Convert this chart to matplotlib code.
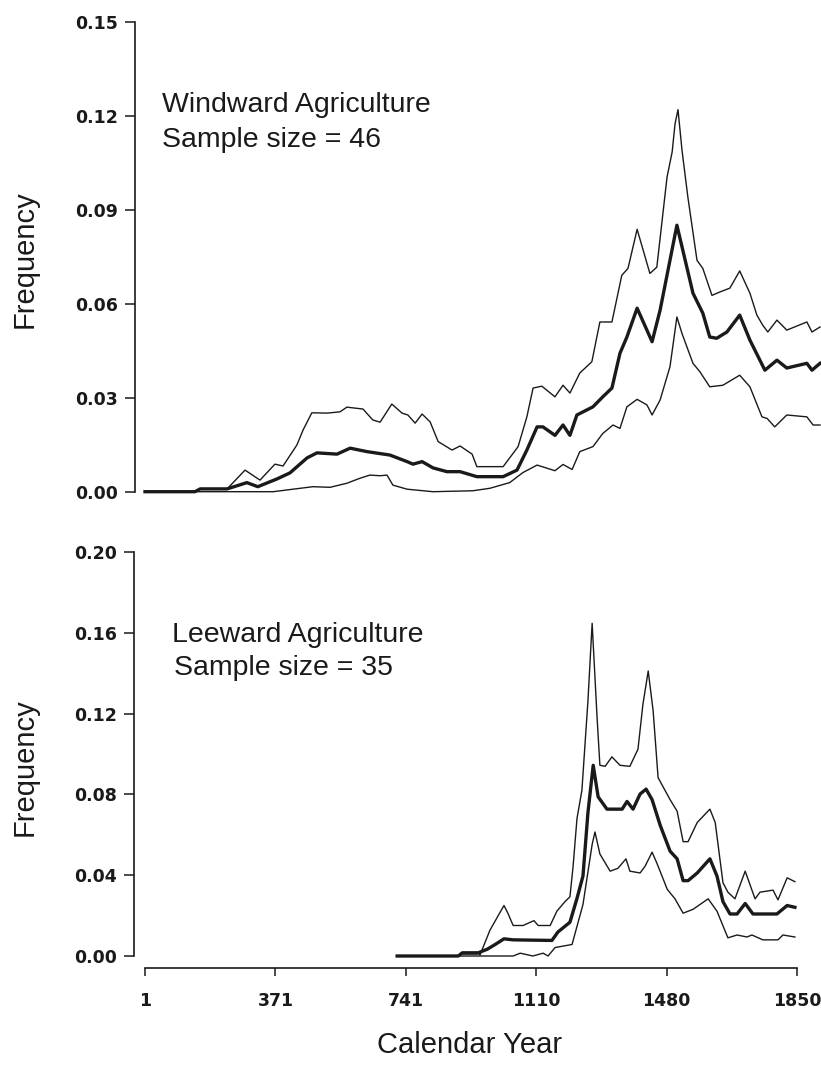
import matplotlib
matplotlib.use("Agg")
import matplotlib.pyplot as plt

# ---------------- data ----------------
# Windward Agriculture (sample size = 46)
wind_mean_year = [1, 138, 152, 226, 280, 310, 363, 398, 445, 472, 527, 563, 609, 672, 719, 735, 760, 790,
                  828, 864, 910, 982, 1020, 1047, 1075, 1091, 1124, 1146, 1165, 1184, 1228, 1255, 1280,
                  1302, 1321, 1349, 1390, 1412, 1458, 1502, 1529, 1548, 1567, 1595, 1630, 1658, 1699,
                  1732, 1759, 1814, 1828, 1850]
wind_mean = [0, 0, 0.0009, 0.0009, 0.0029, 0.0016, 0.0041, 0.006, 0.0108, 0.0124, 0.012, 0.0139, 0.0128,
             0.0117, 0.0096, 0.0088, 0.0096, 0.0076, 0.0064, 0.0064, 0.0048, 0.0048, 0.0069, 0.0133,
             0.0207, 0.0207, 0.018, 0.0213, 0.018, 0.0245, 0.0271, 0.0303, 0.0331, 0.0442, 0.0494,
             0.0586, 0.0479, 0.058, 0.0851, 0.0634, 0.057, 0.0494, 0.049, 0.051, 0.0564, 0.0484,
             0.0388, 0.042, 0.0395, 0.041, 0.0388, 0.041]

wind_upper_year = [1, 138, 152, 226, 275, 316, 357, 379, 417, 434, 458, 500, 535, 554, 598, 625, 645, 677,
                   705, 721, 741, 760, 782, 804, 842, 864, 897, 910, 982, 1023, 1047, 1064, 1088, 1124,
                   1146, 1165, 1192, 1225, 1247, 1280, 1307, 1324, 1349, 1384, 1403, 1431, 1445, 1453,
                   1461, 1472, 1488, 1513, 1529, 1554, 1576, 1603, 1630, 1658, 1677, 1693, 1707, 1732,
                   1759, 1814, 1828, 1850]
wind_upper = [0, 0, 0.0009, 0.0009, 0.0069, 0.0037, 0.0088, 0.0082, 0.0149, 0.0197, 0.0252, 0.0251,
              0.0255, 0.027, 0.0264, 0.0229, 0.0222, 0.028, 0.0251, 0.0245, 0.0219, 0.0248, 0.0223,
              0.016, 0.0133, 0.0146, 0.012, 0.008, 0.008, 0.0144, 0.0239, 0.0331, 0.0337, 0.0303, 0.034,
              0.0315, 0.0379, 0.0415, 0.0542, 0.0542, 0.0691, 0.0713, 0.0838, 0.0697, 0.0717, 0.1005,
              0.1085, 0.1176, 0.122, 0.109, 0.0941, 0.0739, 0.0713, 0.0627, 0.0638, 0.065, 0.0705,
              0.0634, 0.0564, 0.0532, 0.051, 0.0548, 0.0516, 0.0542, 0.051, 0.0526]

wind_lower_year = [1, 352, 461, 508, 554, 590, 617, 645, 664, 680, 719, 790, 899, 946, 1000, 1036, 1075,
                   1124, 1146, 1171, 1192, 1228, 1255, 1283, 1302, 1321, 1349, 1376, 1390, 1412, 1439,
                   1458, 1472, 1502, 1521, 1548, 1584, 1630, 1658, 1691, 1705, 1726, 1759, 1814, 1831,
                   1850]
wind_lower = [0, 0, 0.0016, 0.0014, 0.0027, 0.0043, 0.0053, 0.0051, 0.0053, 0.0021, 0.0008, 0, 0.0003,
              0.0011, 0.0029, 0.0061, 0.0085, 0.0067, 0.0087, 0.0071, 0.0128, 0.0144, 0.0186, 0.0213,
              0.0202, 0.0271, 0.0295, 0.0277, 0.0245, 0.0293, 0.0399, 0.0558, 0.0505, 0.041, 0.0383,
              0.0335, 0.034, 0.0372, 0.0335, 0.0239, 0.0234, 0.0207, 0.0245, 0.0239, 0.0213, 0.0213]

# Leeward Agriculture (sample size = 35)
lee_mean_year = [716, 889, 900, 943, 971, 994, 1019, 1045, 1155, 1172, 1206, 1226, 1243, 1257, 1272, 1286,
                 1311, 1354, 1368, 1385, 1405, 1422, 1439, 1462, 1490, 1510, 1527, 1541, 1567, 1603,
                 1623, 1640, 1660, 1680, 1703, 1725, 1793, 1822, 1844]
lee_mean = [0, 0, 0.0014, 0.0014, 0.0033, 0.0057, 0.0085, 0.008, 0.0077, 0.0119, 0.0167, 0.0285, 0.0396,
            0.0708, 0.0944, 0.0788, 0.0727, 0.0727, 0.0765, 0.0727, 0.0802, 0.0826, 0.0774, 0.0647,
            0.0519, 0.0481, 0.0373, 0.0373, 0.0411, 0.0481, 0.0396, 0.0269, 0.0208, 0.0208, 0.026,
            0.0208, 0.0208, 0.025, 0.0241]

lee_upper_year = [716, 889, 900, 943, 951, 979, 1002, 1019, 1030, 1045, 1073, 1104, 1116, 1150, 1169, 1192,
                  1206, 1215, 1226, 1240, 1257, 1269, 1283, 1291, 1306, 1325, 1348, 1376, 1399, 1413,
                  1428, 1442, 1456, 1490, 1510, 1527, 1541, 1567, 1603, 1618, 1640, 1654, 1674, 1703,
                  1731, 1745, 1782, 1796, 1822, 1844]
lee_upper = [0, 0, 0.002, 0.002, 0.0005, 0.0127, 0.0198, 0.025, 0.0212, 0.0151, 0.0151, 0.0175, 0.0151,
             0.0151, 0.0222, 0.0269, 0.0293, 0.0444, 0.068, 0.0821, 0.126, 0.1647, 0.118, 0.0944, 0.0939,
             0.0986, 0.0944, 0.0939, 0.1024, 0.1246, 0.1411, 0.1213, 0.0883, 0.0774, 0.0717, 0.0566,
             0.0566, 0.0661, 0.0727, 0.0661, 0.0363, 0.0316, 0.0283, 0.042, 0.0283, 0.0316, 0.0326,
             0.0278, 0.0387, 0.0368]

lee_lower_year = [716, 1045, 1065, 1101, 1130, 1144, 1164, 1212, 1243, 1269, 1277, 1291, 1320, 1342, 1365,
                  1376, 1405, 1419, 1439, 1453, 1482, 1504, 1527, 1555, 1598, 1623, 1654, 1680, 1708,
                  1722, 1753, 1796, 1810, 1844]
lee_lower = [0, 0, 0.0014, 0, 0.0014, 0, 0.0042, 0.0057, 0.0255, 0.0552, 0.0614, 0.0505, 0.042, 0.0434,
             0.0481, 0.042, 0.0411, 0.0444, 0.0514, 0.0458, 0.033, 0.0283, 0.0212, 0.0231, 0.0283,
             0.0222, 0.009, 0.0104, 0.0094, 0.0104, 0.008, 0.008, 0.0104, 0.0094]

x_ticks = [1, 371, 741, 1110, 1480, 1850]
top_yticks = [0.00, 0.03, 0.06, 0.09, 0.12, 0.15]
bot_yticks = [0.00, 0.04, 0.08, 0.12, 0.16, 0.20]

# ---------------- figure ----------------
W, H = 821, 1068
fig = plt.figure(figsize=(W / 100, H / 100), dpi=100)
plt.rcParams['font.family'] = ['Liberation Sans', 'DejaVu Sans']

ink = '#1a1a1a'
thin = 1.0
thick = 2.4
tick_font = dict(family='DejaVu Sans', fontweight='bold', fontsize=12.5)

def px_axes(left, top, right, bottom):
    return fig.add_axes([left / W, 1 - bottom / H, (right - left) / W, (bottom - top) / H])

ax1 = px_axes(135, 22, 821, 491.7)
ax2 = px_axes(134, 552, 821, 956)

for ax in (ax1, ax2):
    for s in ('top', 'right'):
        ax.spines[s].set_visible(False)
    ax.spines['left'].set_linewidth(1.2)
    ax.spines['left'].set_color(ink)
    ax.tick_params(axis='y', direction='out', length=7, width=1.1, pad=5, colors=ink, labelcolor=ink)

# top panel
ax1.set_xlim(-26.4, 1852.7)
ax1.set_ylim(0, 0.15)
ax1.spines['bottom'].set_visible(False)
ax1.set_xticks([])
ax1.set_yticks(top_yticks)
ax1.set_yticklabels([f"{v:.2f}" for v in top_yticks], **tick_font)
ax1.plot(wind_upper_year, wind_upper, color=ink, lw=thin, clip_on=False)
ax1.plot(wind_lower_year, wind_lower, color=ink, lw=thin, clip_on=False)
ax1.plot(wind_mean_year, wind_mean, color=ink, lw=thick, clip_on=False)
ax1.set_ylabel("Frequency", fontsize=21, color=ink)
ax1.yaxis.set_label_coords((39 - 135) / 686, (491.7 - 259) / 469.7)

# bottom panel
ax2.set_xlim(-30.2, 1918)
ax2.set_ylim(0, 0.20)
ax2.spines['bottom'].set_position(('outward', 8.6))
ax2.spines['bottom'].set_bounds(1, 1850)
ax2.spines['bottom'].set_linewidth(1.2)
ax2.spines['bottom'].set_color(ink)
ax2.spines['left'].set_bounds(0, 0.20)
ax2.set_xticks(x_ticks)
ax2.set_xticklabels([str(v) for v in x_ticks], **tick_font)
ax2.tick_params(axis='x', direction='out', length=6, width=1.1, pad=11, colors=ink, labelcolor=ink)
ax2.set_yticks(bot_yticks)
ax2.set_yticklabels([f"{v:.2f}" for v in bot_yticks], **tick_font)
ax2.plot(lee_upper_year, lee_upper, color=ink, lw=thin, clip_on=False)
ax2.plot(lee_lower_year, lee_lower, color=ink, lw=thin, clip_on=False)
ax2.plot(lee_mean_year, lee_mean, color=ink, lw=thick, clip_on=False)
ax2.set_ylabel("Frequency", fontsize=21, color=ink)
ax2.yaxis.set_label_coords((39 - 134) / 687, (956 - 767) / 404)
ax2.set_xlabel("Calendar Year", fontsize=21, color=ink)
ax2.xaxis.set_label_coords((470 - 134) / 687, (956 - 1031) / 404)

# annotations
fig.text(162 / W, 1 - 112 / H, "Windward Agriculture", fontsize=20.5, color=ink, va='baseline')
fig.text(162 / W, 1 - 147 / H, "Sample size = 46", fontsize=20.5, color=ink, va='baseline')
fig.text(172 / W, 1 - 642 / H, "Leeward Agriculture", fontsize=20.5, color=ink, va='baseline')
fig.text(174 / W, 1 - 675 / H, "Sample size = 35", fontsize=20.5, color=ink, va='baseline')

fig.savefig("out.png", dpi=100, facecolor='white')
